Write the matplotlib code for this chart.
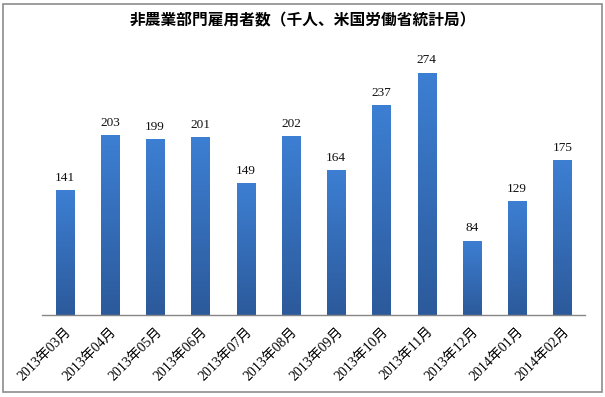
import numpy as np
import matplotlib
matplotlib.use("Agg")
import matplotlib.pyplot as plt
from matplotlib.colors import LinearSegmentedColormap
from matplotlib.patches import Rectangle

categories = ["2013年03月", "2013年04月", "2013年05月", "2013年06月", "2013年07月", "2013年08月",
              "2013年09月", "2013年10月", "2013年11月", "2013年12月", "2014年01月", "2014年02月"]
values = [141, 203, 199, 201, 149, 202, 164, 237, 274, 84, 129, 175]
title = "非農業部門雇用者数（千人、米国労働省統計局）"

fig = plt.figure(figsize=(6.05, 3.97), dpi=100)
# outer border
fig.patches.append(Rectangle((3/605, 5/397), 599/605, 388/397, transform=fig.transFigure,
                             fill=False, edgecolor="#8c8c8c", linewidth=1.2))

ax = fig.add_axes([42/605, 1 - 315/397, 543/605, 265.5/397])
x = np.arange(len(values))
bars = ax.bar(x, values, width=0.4, color="none", edgecolor="none")
cmap = LinearSegmentedColormap.from_list("g", ["#2c5a9b", "#3d7fd3"])
grad = np.linspace(0, 1, 256).reshape(-1, 1)
for b in bars:
    x0, w, h = b.get_x(), b.get_width(), b.get_height()
    im = ax.imshow(grad, cmap=cmap, extent=[x0, x0 + w, 0, h], origin="lower",
                   aspect="auto", zorder=2)
    im.set_clip_path(b)
    ax.text(x0 + w / 2, h + 7, str(h), ha="center", va="bottom", fontsize=9.5,
            family=["Liberation Serif", "Noto Sans CJK JP"], color="#111111")

ax.set_xlim(-0.5, len(values) - 0.5)
ax.set_ylim(0, 300)
ax.set_yticks([])
ax.set_xticks(x)
ax.set_xticklabels(categories, rotation=45, ha="right", rotation_mode="anchor",
                   fontsize=10, family=["Liberation Serif", "Noto Sans CJK JP"])
ax.tick_params(axis="x", length=0, pad=7)
for s in ["top", "right", "left"]:
    ax.spines[s].set_visible(False)
ax.spines["bottom"].set_color("#868686")
ax.spines["bottom"].set_linewidth(1)

fig.text(0.5, 1 - 20/397, title, ha="center", va="center", fontsize=11.3,
         fontweight="bold", family=["Noto Sans CJK JP", "DejaVu Sans"])

fig.savefig("out.png", dpi=100)
